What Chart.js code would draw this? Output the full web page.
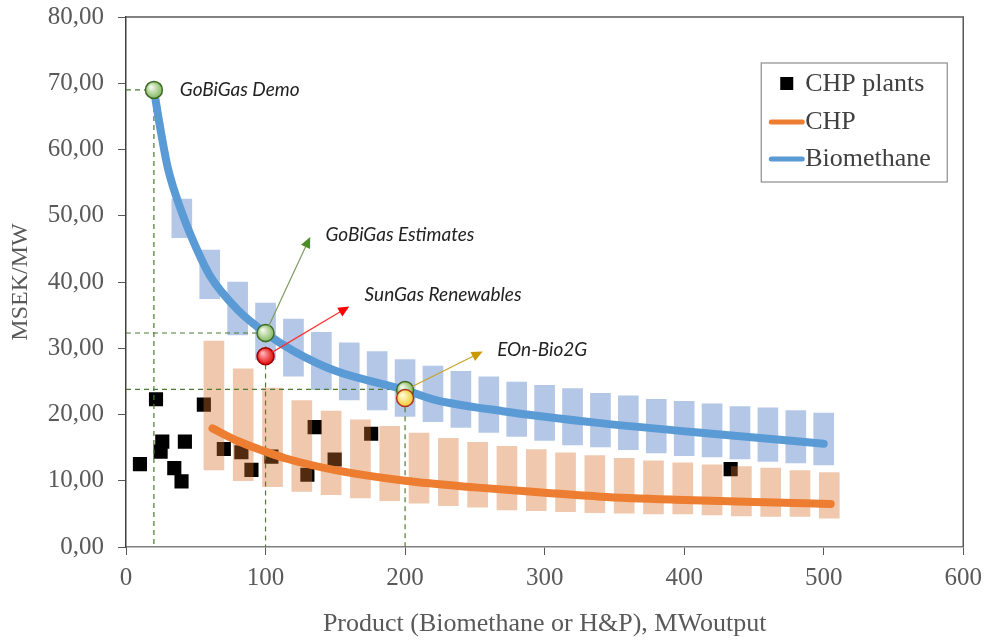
<!DOCTYPE html>
<html>
<head>
<meta charset="utf-8">
<title>MSEK/MW</title>
<script src="https://cdn.jsdelivr.net/npm/chart.js"></script>
<style>
  html, body { margin: 0; padding: 0; background: #fff; }
  #wrap { width: 990px; height: 640px; }
</style>
</head>
<body>
<div id="wrap"><canvas id="mycanvas" width="990" height="640"></canvas></div>
<script>
// CHP plants (scatter)
var plantX = [10, 21.5, 26, 24.8, 42.2, 34.6, 39.8, 55.8, 70.1, 82.7, 89.9, 104.2, 130, 135.2, 149.5, 175.7, 433.3];
var plantY = [12.5, 22.3, 15.9, 14.4, 15.9, 11.9, 9.9, 21.5, 14.8, 14.3, 11.65, 13.65, 10.9, 18.1, 13.2, 17.1, 11.75];

// Biomethane range boxes
var bioBoxX = [40, 60, 80, 100, 120, 140, 160, 180, 200, 220, 240, 260, 280, 300, 320, 340, 360, 380, 400, 420, 440, 460, 480, 500];
var bioBoxLow = [46.7, 37.5, 32.0, 28.3, 25.8, 23.75, 22.2, 20.7, 19.7, 18.9, 18.05, 17.3, 16.7, 16.1, 15.4, 15.1, 14.7, 14.2, 13.8, 13.6, 13.3, 12.9, 12.7, 12.4];
var bioBoxHigh = [52.5, 44.8, 40.0, 36.8, 34.4, 32.4, 30.8, 29.5, 28.3, 27.3, 26.5, 25.7, 24.9, 24.4, 23.9, 23.2, 22.8, 22.3, 22.0, 21.6, 21.2, 21.0, 20.6, 20.2];

// CHP range boxes
var chpBoxX = [63, 84, 105, 126, 147, 168, 189, 210, 231, 252, 273, 294, 315, 336, 357, 378, 399, 420, 441, 462, 483, 504];
var chpBoxLow = [11.65, 10.0, 9.1, 8.4, 7.9, 7.4, 7.0, 6.6, 6.25, 6.0, 5.6, 5.5, 5.35, 5.2, 5.1, 5.0, 5.0, 4.85, 4.7, 4.6, 4.6, 4.35];
var chpBoxHigh = [31.1, 26.9, 24.0, 22.1, 20.5, 19.2, 18.2, 17.2, 16.4, 15.8, 15.2, 14.7, 14.2, 13.8, 13.4, 13.0, 12.7, 12.4, 12.15, 11.9, 11.55, 11.25];

// fitted curves
var bioCurveX = [20, 25, 30, 40, 50, 60, 80, 100, 120, 150, 200, 220, 270, 340, 430, 500];
var bioCurveY = [69, 62.7, 57.2, 50.5, 45.3, 41, 35.8, 32.3, 29.6, 26.6, 23.7, 22.3, 20.5, 18.7, 16.9, 15.6];
var chpCurveX = [62, 80, 100, 114, 150, 200, 250, 300, 340, 400, 450, 505];
var chpCurveY = [17.9, 16.0, 14.4, 13.4, 11.6, 10.0, 9.0, 8.2, 7.6, 7.1, 6.8, 6.5];

// projects
var gobiX = [20, 100, 200];
var gobiY = [69, 32.3, 23.7];
var sunGasX = [100];
var sunGasY = [28.8];
var eonX = [200];
var eonY = [22.5];

// dashed guide lines
var guideX = [20, 100, 200];
var guideY = [69, 32.3, 23.8];

// annotation texts and arrows
var noteText = ['GoBiGas Demo', 'GoBiGas Estimates', 'SunGas Renewables', 'EOn-Bio2G'];
var noteX = [38.6, 143, 171, 266];
var noteY = [69, 47.1, 38.1, 29.8];
var arrowFromX = [100, 100, 200];
var arrowFromY = [32.3, 28.8, 23.7];
var arrowToX = [132, 160, 255.6];
var arrowToY = [46.8, 36.3, 29.5];
var arrowLine = ['#7e9c62', '#ff3030', '#c9a227'];
var arrowHead = ['#4f8a2b', '#ff0000', '#c89a00'];

var yTicks = [0, 10, 20, 30, 40, 50, 60, 70, 80];

function pts(xs, ys) {
  var out = [];
  for (var i = 0; i < xs.length; i++) out.push({x: xs[i], y: ys[i]});
  return out;
}
function boxes(xs, lo, hi) {
  var out = [];
  for (var i = 0; i < xs.length; i++) out.push({x: xs[i], y: [lo[i], hi[i]]});
  return out;
}
function glossy(light, dark) {
  return function(c) {
    if (c.type !== 'data' || !c.raw) return dark;
    var ch = c.chart;
    if (!ch.scales.x || !ch.scales.y) return dark;
    var px = ch.scales.x.getPixelForValue(c.raw.x), py = ch.scales.y.getPixelForValue(c.raw.y);
    if (!isFinite(px) || !isFinite(py)) return dark;
    var g = ch.ctx.createRadialGradient(px - 3, py - 3, 1, px, py, 9);
    g.addColorStop(0, light);
    g.addColorStop(1, dark);
    return g;
  };
}

var guides = [];
for (var i = 0; i < guideX.length; i++) {
  guides.push({
    type: 'line',
    data: [{x: 0, y: guideY[i]}, {x: guideX[i], y: guideY[i]}, {x: guideX[i], y: 0}],
    borderColor: '#4e7a32',
    borderWidth: 1.2,
    borderDash: [5, 4],
    pointRadius: 0,
    fill: false,
    order: 7
  });
}

var serif = 'Liberation Serif';

var extras = {
  id: 'extras',
  afterDatasetsDraw: function(chart) {
    var ctx = chart.ctx, xs = chart.scales.x, ys = chart.scales.y, a = chart.chartArea;
    ctx.save();

    // arrows
    for (var i = 0; i < arrowFromX.length; i++) {
      var x0 = xs.getPixelForValue(arrowFromX[i]), y0 = ys.getPixelForValue(arrowFromY[i]);
      var x1 = xs.getPixelForValue(arrowToX[i]), y1 = ys.getPixelForValue(arrowToY[i]);
      var ang = Math.atan2(y1 - y0, x1 - x0);
      var c = Math.cos(ang), s = Math.sin(ang);
      ctx.strokeStyle = arrowLine[i];
      ctx.lineWidth = 1.2;
      ctx.beginPath();
      ctx.moveTo(x0 + 8 * c, y0 + 8 * s);
      ctx.lineTo(x1 - 9 * c, y1 - 9 * s);
      ctx.stroke();
      ctx.fillStyle = arrowHead[i];
      ctx.beginPath();
      ctx.moveTo(x1, y1);
      ctx.lineTo(x1 - 11 * c + 5 * s, y1 - 11 * s - 5 * c);
      ctx.lineTo(x1 - 11 * c - 5 * s, y1 - 11 * s + 5 * c);
      ctx.closePath();
      ctx.fill();
    }

    // notes
    ctx.font = 'italic 19px Lato';
    ctx.fillStyle = '#222';
    ctx.textAlign = 'left';
    ctx.textBaseline = 'middle';
    for (var j = 0; j < noteText.length; j++) {
      ctx.fillText(noteText[j], xs.getPixelForValue(noteX[j]), ys.getPixelForValue(noteY[j]));
    }

    // frame top/right
    ctx.strokeStyle = '#595959';
    ctx.lineWidth = 1.5;
    ctx.beginPath();
    ctx.moveTo(a.left, a.top);
    ctx.lineTo(a.right, a.top);
    ctx.lineTo(a.right, a.bottom);
    ctx.stroke();

    // legend
    var lx = a.right - 202, ly = a.top + 46, lw = 186, lh = 119;
    ctx.fillStyle = '#fff';
    ctx.fillRect(lx, ly, lw, lh);
    ctx.strokeStyle = '#8c8c8c';
    ctx.lineWidth = 1.2;
    ctx.strokeRect(lx, ly, lw, lh);
    ctx.font = '26px ' + serif;
    ctx.textBaseline = 'middle';
    ctx.fillStyle = '#000';
    ctx.fillRect(lx + 19, ly + 14, 13, 13);
    ctx.lineCap = 'round';
    ctx.lineWidth = 5;
    ctx.strokeStyle = '#ed7d31';
    ctx.beginPath(); ctx.moveTo(lx + 10, ly + 59); ctx.lineTo(lx + 41, ly + 59); ctx.stroke();
    ctx.strokeStyle = '#5b9bd5';
    ctx.beginPath(); ctx.moveTo(lx + 10, ly + 96); ctx.lineTo(lx + 41, ly + 96); ctx.stroke();
    ctx.fillStyle = '#404040';
    ctx.fillText('CHP plants', lx + 44, ly + 21);
    ctx.fillText('CHP', lx + 44, ly + 59);
    ctx.fillText('Biomethane', lx + 44, ly + 96);
    ctx.restore();
  }
};

var ctx = document.getElementById('mycanvas');

var chart = new Chart(ctx, {
  type: 'scatter',
  data: {
    datasets: [
      {
        type: 'scatter',
        label: 'CHP plants',
        data: pts(plantX, plantY),
        pointStyle: 'rect',
        pointRadius: 10,
        backgroundColor: '#000',
        borderWidth: 0,
        order: 10
      },
      {
        type: 'bar',
        label: 'Biomethane range',
        data: boxes(bioBoxX, bioBoxLow, bioBoxHigh),
        backgroundColor: '#b4c7e7',
        borderWidth: 0,
        barThickness: 20,
        grouped: false,
        order: 9
      },
      {
        type: 'bar',
        label: 'CHP range',
        data: boxes(chpBoxX, chpBoxLow, chpBoxHigh),
        backgroundColor: 'rgba(215,110,40,0.38)',
        borderWidth: 0,
        barThickness: 20,
        grouped: false,
        order: 8
      }
    ].concat(guides).concat([
      {
        type: 'line',
        label: 'CHP',
        data: pts(chpCurveX, chpCurveY),
        borderColor: '#ed7d31',
        borderWidth: 8,
        borderCapStyle: 'round',
        cubicInterpolationMode: 'monotone',
        pointRadius: 0,
        fill: false,
        order: 6
      },
      {
        type: 'line',
        label: 'Biomethane',
        data: pts(bioCurveX, bioCurveY),
        borderColor: '#5b9bd5',
        borderWidth: 8,
        borderCapStyle: 'round',
        cubicInterpolationMode: 'monotone',
        pointRadius: 0,
        fill: false,
        order: 5
      },
      {
        type: 'scatter',
        label: 'GoBiGas',
        data: pts(gobiX, gobiY),
        pointRadius: 8.5,
        backgroundColor: glossy('#eef7e6', '#7fb55a'),
        borderColor: '#3f6b25',
        borderWidth: 1.5,
        order: 3
      },
      {
        type: 'scatter',
        label: 'SunGas Renewables',
        data: pts(sunGasX, sunGasY),
        pointRadius: 8.5,
        backgroundColor: glossy('#ffb0b0', '#e00000'),
        borderColor: '#a00000',
        borderWidth: 1.5,
        order: 2
      },
      {
        type: 'scatter',
        label: 'EOn-Bio2G',
        data: pts(eonX, eonY),
        pointRadius: 8.5,
        backgroundColor: glossy('#fffbd0', '#f0c830'),
        borderColor: '#b03020',
        borderWidth: 1.5,
        order: 1
      }
    ])
  },
  options: {
    responsive: false,
    animation: false,
    events: [],
    layout: { padding: { top: 17, right: 25, left: 0, bottom: 0 } },
    plugins: {
      legend: { display: false },
      tooltip: { enabled: false }
    },
    scales: {
      x: {
        type: 'linear',
        min: 0,
        max: 600,
        offset: false,
        afterFit: function(s) { s.height = 93; },
        ticks: {
          stepSize: 100,
          color: '#595959',
          padding: 8,
          font: { family: serif, size: 25 }
        },
        grid: { offset: false, drawOnChartArea: false, drawTicks: true, tickLength: 8, color: '#595959' },
        border: { color: '#7f7f7f', width: 1.5 },
        title: {
          display: true,
          text: 'Product (Biomethane or H&P), MWoutput',
          color: '#595959',
          font: { family: serif, size: 26 },
          padding: { top: 0, bottom: 0 }
        }
      },
      y: {
        type: 'linear',
        min: 0,
        max: 80,
        afterFit: function(s) { s.width = 126; s.paddingTop = 0; s.paddingBottom = 0; },
        afterBuildTicks: function(s) { s.ticks = yTicks.map(function(v) { return {value: v}; }); },
        ticks: {
          color: '#595959',
          padding: 14,
          font: { family: serif, size: 25 },
          callback: function(v) { return v.toFixed(2).replace('.', ','); }
        },
        grid: { drawOnChartArea: false, drawTicks: true, tickLength: 8, color: '#595959' },
        border: { color: '#404040', width: 1.5 },
        title: {
          display: true,
          text: 'MSEK/MW',
          color: '#595959',
          font: { family: serif, size: 24 },
          padding: { top: 6, bottom: 0 }
        }
      }
    }
  },
  plugins: [extras]
});
</script>
</body>
</html>
